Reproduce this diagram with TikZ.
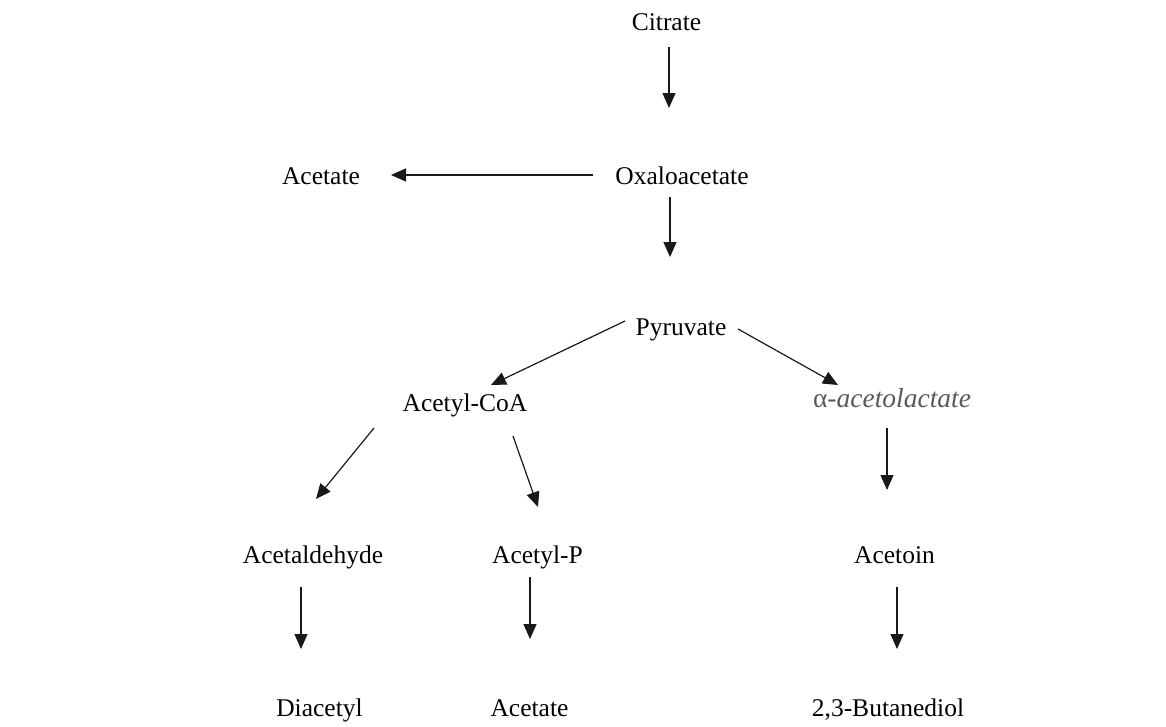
\documentclass[tikz,border=0pt]{standalone}
\usepackage{fontspec}
\setmainfont{Liberation Serif}
\usetikzlibrary{arrows.meta,calc}
\definecolor{alphagray}{HTML}{5A5A5A}
\begin{document}
\begin{tikzpicture}[x=1pt,y=-1pt,
  lbl/.style={anchor=base,inner sep=0pt,font=\fontsize{25.5}{30}\selectfont},
  arr/.style={line width=1.2pt,draw=black!90,-{Triangle[length=15pt,width=13pt]}}]
\useasboundingbox (0,0) rectangle (1166,726);
\node[lbl] (citrate) at (666.5,30) {Citrate};
\node[lbl] (oxalo) at (682,184) {Oxaloacetate};
\node[lbl] (acetate1) at (321,184) {Acetate};
\node[lbl] (pyruvate) at (681,335) {Pyruvate};
\node[lbl] (acoa) at (465,411) {Acetyl-CoA};
\node[lbl,text=alphagray,font=\fontsize{27.5}{30}\selectfont] (alpha) at (892,407) {α-\textit{acetolactate}};
\node[lbl] (acetald) at (313,563) {Acetaldehyde};
\node[lbl] (acetylp) at (537.5,563) {Acetyl-P};
\node[lbl] (acetoin) at (894.5,563) {Acetoin};
\node[lbl] (diacetyl) at (319.5,716) {Diacetyl};
\node[lbl] (acetate2) at (529.5,716) {Acetate};
\node[lbl] (butane) at (888,716) {2,3-Butanediol};

\draw[arr] ($(citrate.base)+(2.5,17)$) -- ($(oxalo.base)+(-13,-76)$);
\draw[arr] ($(oxalo.base)+(-89,-9)$) -- ($(acetate1.base)+(70,-9)$);
\draw[arr] ($(oxalo.base)+(-12,13)$) -- ($(pyruvate.base)+(-11,-78)$);
\draw[arr] ($(pyruvate.base)+(-56,-14)$) -- ($(acoa.base)+(26,-26)$);
\draw[arr] ($(pyruvate.base)+(57,-6)$) -- ($(alpha.base)+(-54,-22)$);
\draw[arr] ($(acoa.base)+(-91,17)$) -- ($(acetald.base)+(3,-64)$);
\draw[arr] ($(acoa.base)+(48,25)$) -- ($(acetylp.base)+(0.5,-56)$);
\draw[arr] ($(acetald.base)+(-12,24)$) -- ($(diacetyl.base)+(-18.5,-67)$);
\draw[arr] ($(acetylp.base)+(-7.5,14)$) -- ($(acetate2.base)+(0.5,-77)$);
\draw[arr] ($(alpha.base)+(-5,21)$) -- ($(acetoin.base)+(-7.5,-73)$);
\draw[arr] ($(acetoin.base)+(2.5,24)$) -- ($(butane.base)+(9,-67)$);
\end{tikzpicture}
\end{document}
